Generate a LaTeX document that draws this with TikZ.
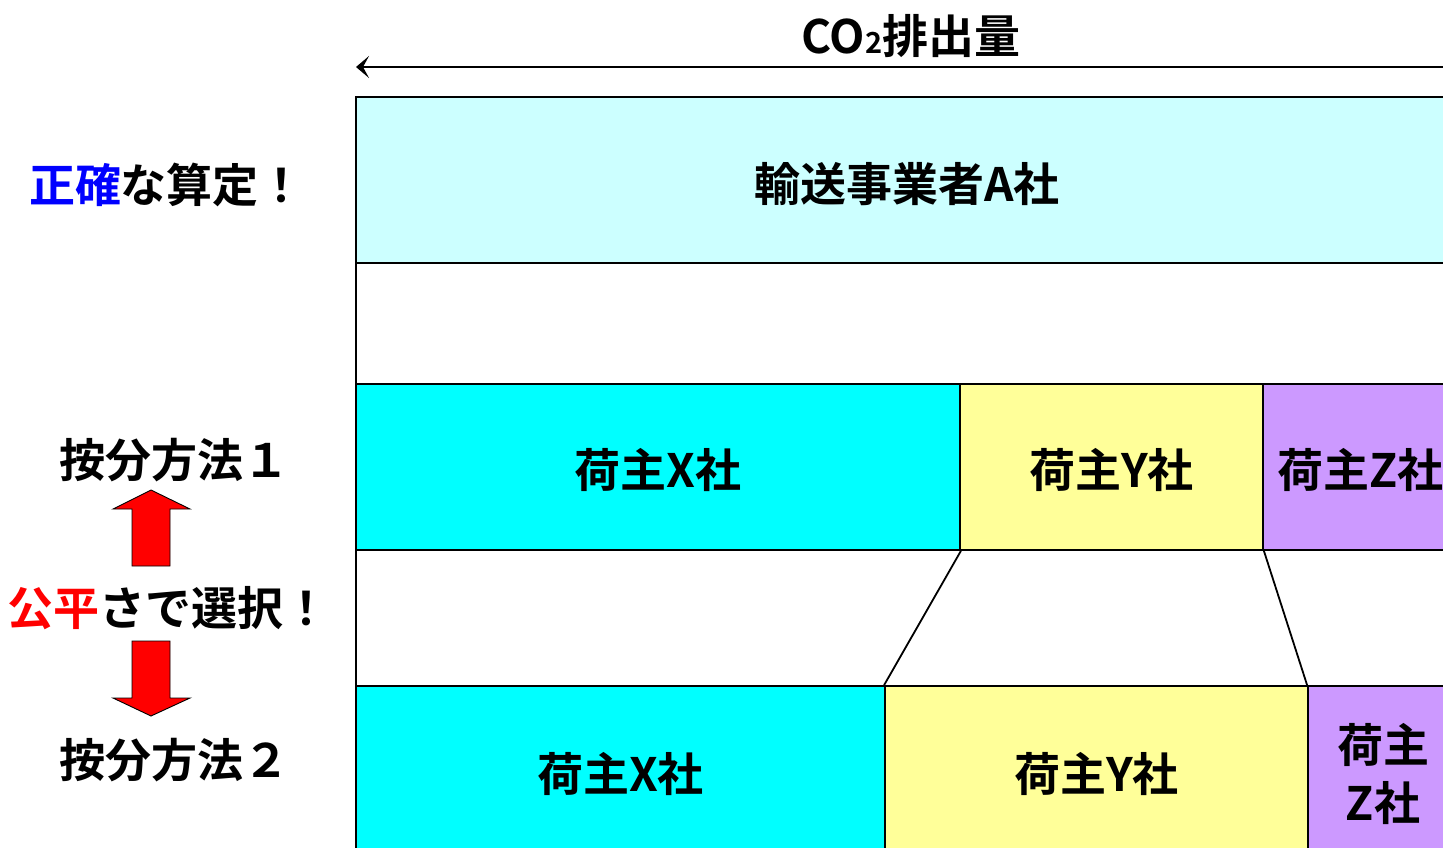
\documentclass[tikz,border=0pt]{standalone}
\usepackage{fontspec}
\setmainfont{Noto Sans CJK JP}[BoldFont={Noto Sans CJK JP Bold}]
\usetikzlibrary{arrows.meta}
\definecolor{lcyan}{HTML}{CCFFFF}
\definecolor{cyanf}{HTML}{00FFFF}
\definecolor{yel}{HTML}{FFFF99}
\definecolor{lav}{HTML}{CC99FF}
\newcommand{\lowered}[2]{\raisebox{-#1}[\height][\depth]{#2}}
\begin{document}
\begin{tikzpicture}[x=1pt,y=-1pt,
  txt/.style={font=\fontsize{46}{58}\selectfont\bfseries, inner sep=0pt},
  box/.style={draw=black, line width=1.8pt, inner sep=0pt, anchor=center, align=center,
              font=\fontsize{46}{58}\selectfont\bfseries},
  blockarrow/.style={fill=red, draw=black, line width=0.9pt, line join=miter}]
\useasboundingbox (0,0) rectangle (1443,848);
\clip (0,0) rectangle (1443,848);
% title and axis arrow
\node[txt] (title) at (911,36) {CO{\fontsize{29}{29}\selectfont 2}排出量};
\coordinate (axs) at (1470,67);
\coordinate (axe) at (356,67);
\draw[line width=1.8pt, -{Stealth[length=13pt,width=22pt,inset=6pt]}] (axs) -- (axe);
% white gaps
\node[box, fill=white, minimum width=1102pt, minimum height=121pt] (gap1) at (907,323.5) {};
\node[box, fill=white, minimum width=1102pt, minimum height=136pt] (gap2) at (907,618) {};
% carrier box
\node[box, fill=lcyan, minimum width=1102pt, minimum height=166pt] (carrier) at (907,180) {\lowered{4pt}{輸送事業者A社}};
% method 1 row
\node[box, fill=cyanf, minimum width=604pt, minimum height=166pt] (x1) at (658,467) {\lowered{3pt}{荷主X社}};
\node[box, fill=yel, minimum width=303pt, minimum height=166pt] (y1) at (1111.5,467) {\lowered{3pt}{荷主Y社}};
\node[box, fill=lav, minimum width=195pt, minimum height=166pt] (z1) at (1360.5,467) {\lowered{3pt}{荷主Z社}};
% method 2 row
\node[box, fill=cyanf, minimum width=529pt, minimum height=176pt] (x2) at (620.5,774) {荷主X社};
\node[box, fill=yel, minimum width=423pt, minimum height=176pt] (y2) at (1096.5,774) {荷主Y社};
\node[box, fill=lav, minimum width=150pt, minimum height=176pt] (z2) at (1383,774) {荷主\\Z社};
% trapezoid connectors
\draw[line width=1.8pt] (x1.south east) -- (y2.north west);
\draw[line width=1.8pt] (y1.south east) -- (z2.north west);
% left labels
\node[txt] (acc) at (167,185) {{\color{blue}正確}な算定！};
\node[txt] (m1) at (174,460) {按分方法１};
\node[txt] (sel) at (169,608) {{\color{red}公平}さで選択！};
\node[txt] (m2) at (174,760) {按分方法２};
% red block arrows
\draw[blockarrow] (151,490) -- (190,509) -- (170,509) -- (170,566) -- (132,566) -- (132,509) -- (113,509) -- cycle;
\draw[blockarrow] (132,641) -- (170,641) -- (170,698) -- (190,698) -- (151,716) -- (113,698) -- (132,698) -- cycle;
\end{tikzpicture}
\end{document}
